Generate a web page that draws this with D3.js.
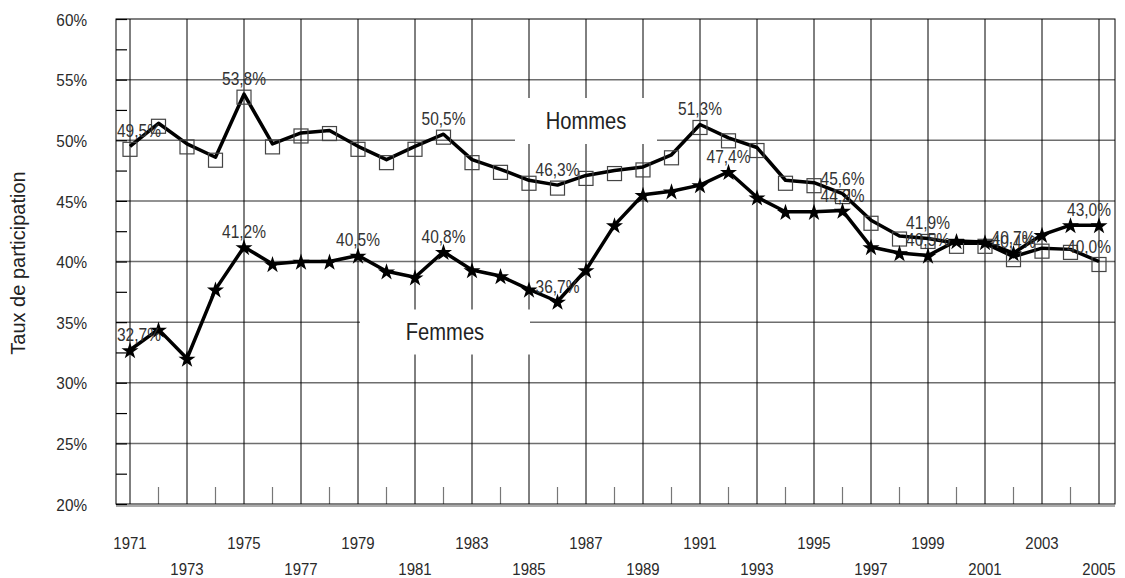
<!DOCTYPE html>
<html>
<head>
<meta charset="utf-8">
<script src="https://cdn.jsdelivr.net/npm/d3@7"></script>
<style>
body{margin:0;background:#fff;}
text{font-family:"Liberation Sans",Arial,sans-serif;}
.lbl{font-size:18px;fill:#333;}
.tick text{font-size:17px;fill:#2a2a2a;}
</style>
</head>
<body>
<div id="chart"></div>
<script>
// data
var years = d3.range(1971, 2006);
var hommes = [49.5,51.4,49.7,48.6,53.8,49.7,50.6,50.8,49.5,48.4,49.5,50.5,48.4,47.6,46.7,46.3,47.1,47.5,47.8,48.8,
              51.3,50.2,49.4,46.7,46.5,45.6,43.4,42.1,41.9,41.5,41.5,40.4,41.1,41.0,40.0];
var femmes = [32.7,34.4,32.0,37.7,41.2,39.8,40.0,40.0,40.5,39.2,38.7,40.8,39.3,38.8,37.7,36.7,39.3,43.0,45.5,45.8,
              46.3,47.4,45.3,44.1,44.1,44.2,41.2,40.7,40.5,41.7,41.6,40.7,42.2,43.0,43.0];
var hommesLabelYears = [1971,1975,1982,1986,1991,1996,1999,2002,2005];
var femmesLabelYears = [1971,1975,1979,1982,1986,1992,1996,1999,2002,2005];
var yTicks = [20,25,30,35,40,45,50,55,60];

var width = 1125, height = 578;
var pLeft = 116, pRight = 1115, pTop = 19, pBottom = 504;

var svg = d3.select("#chart").append("svg")
    .attr("width", width)
    .attr("height", height);

// squeeze text to look like a narrow face
function narrow(sel, f){
  sel.each(function(){
    var w = this.getComputedTextLength();
    d3.select(this).attr("textLength", w * f).attr("lengthAdjust", "spacingAndGlyphs");
  });
}

var x = d3.scaleLinear().domain([1971, 2005]).range([130, 1099]);
var y = d3.scaleLinear().domain([20, 60]).range([pBottom, pTop]);

//horizontal grid
svg.selectAll(".hgrid")
   .data(yTicks.slice(1, -1))
   .enter().append("line")
   .attr("x1", pLeft).attr("x2", pRight)
   .attr("y1", function(d){return y(d);})
   .attr("y2", function(d){return y(d);})
   .attr("stroke", "#6e6e6e")
   .attr("stroke-width", 1.5);

//vertical grid at odd years
var oddYears = years.filter(function(d){return d % 2 == 1;});
svg.selectAll(".vgrid")
   .data(oddYears)
   .enter().append("line")
   .attr("x1", function(d){return x(d);})
   .attr("x2", function(d){return x(d);})
   .attr("y1", pTop).attr("y2", pBottom)
   .attr("stroke", "#000")
   .attr("stroke-width", 1);

//short ticks at even years
svg.selectAll(".etick")
   .data(years.filter(function(d){return d % 2 == 0;}))
   .enter().append("line")
   .attr("x1", function(d){return x(d);})
   .attr("x2", function(d){return x(d);})
   .attr("y1", pBottom - 17).attr("y2", pBottom)
   .attr("stroke", "#777")
   .attr("stroke-width", 1.2);

//frame
svg.append("rect")
   .attr("x", pLeft).attr("y", pTop)
   .attr("width", pRight - pLeft).attr("height", pBottom - pTop)
   .attr("fill", "none").attr("stroke", "#000").attr("stroke-width", 1);
svg.append("line")
   .attr("x1", pLeft).attr("x2", pRight)
   .attr("y1", pBottom + 2).attr("y2", pBottom + 2)
   .attr("stroke", "#555").attr("stroke-width", 1);

//y axis
var yAxis = d3.axisLeft(y)
   .tickValues(d3.range(20, 60.1, 2.5))
   .tickSize(-11)
   .tickPadding(29)
   .tickFormat(function(d){return d % 5 == 0 ? d + "%" : "";});
svg.append("g")
   .attr("transform", "translate(" + pLeft + ",0)")
   .call(yAxis)
   .call(function(g){
     g.select(".domain").remove();
     g.selectAll(".tick line").attr("stroke", "#000").attr("stroke-width", 1.2);
     g.selectAll(".tick text").attr("dy", "0.36em").call(narrow, 0.9);
   });

svg.append("text")
   .attr("transform", "translate(25," + 263 + ") rotate(-90)")
   .attr("text-anchor", "middle")
   .style("font-size", "20px")
   .attr("fill", "#222")
   .text("Taux de participation")
   .call(narrow, 1.0);

//x labels in two rows
svg.selectAll(".xlab")
   .data(oddYears)
   .enter().append("text")
   .attr("x", function(d){return x(d);})
   .attr("y", function(d, i){return i % 2 == 0 ? 549 : 575;})
   .attr("text-anchor", "middle")
   .style("font-size", "17px")
   .attr("fill", "#2a2a2a")
   .text(function(d){return d;})
   .call(narrow, 0.88);

//series name boxes
function nameBox(cx, cy, w, h, txt){
  svg.append("rect")
     .attr("x", cx - w/2).attr("y", cy - h/2)
     .attr("width", w).attr("height", h)
     .attr("fill", "#fff");
  svg.append("text")
     .attr("x", cx).attr("y", cy + 8)
     .attr("text-anchor", "middle")
     .style("font-size", "24px")
     .attr("fill", "#222")
     .text(txt)
     .call(narrow, 0.84);
}
nameBox(586, 121, 142, 46, "Hommes");
nameBox(445, 332, 170, 45, "Femmes");

var line = d3.line()
   .x(function(d, i){return x(years[i]);})
   .y(function(d){return y(d);});

//hommes
svg.append("path")
   .datum(hommes)
   .attr("d", line)
   .attr("fill", "none")
   .attr("stroke", "#000")
   .attr("stroke-width", 3.5)
   .attr("stroke-linejoin", "round");
svg.selectAll(".sq")
   .data(hommes)
   .enter().append("rect")
   .attr("x", function(d, i){return x(years[i]) - 7;})
   .attr("y", function(d){return y(d) - 4;})
   .attr("width", 14).attr("height", 14)
   .attr("fill", "none")
   .attr("stroke", "#444")
   .attr("stroke-width", 1.2);

//femmes
svg.append("path")
   .datum(femmes)
   .attr("d", line)
   .attr("fill", "none")
   .attr("stroke", "#000")
   .attr("stroke-width", 3.5)
   .attr("stroke-linejoin", "round");
var star = d3.symbol().type(d3.symbolStar).size(90);
svg.selectAll(".st")
   .data(femmes)
   .enter().append("path")
   .attr("d", star)
   .attr("transform", function(d, i){return "translate(" + x(years[i]) + "," + (y(d) + 1) + ")";})
   .attr("fill", "#000");

//data labels, kept inside the plot area
function fmt(v){return v.toFixed(1).replace(".", ",") + "%";}
function addLabels(vals, labYears){
  labYears.forEach(function(yr){
    var v = vals[years.indexOf(yr)];
    var t = svg.append("text")
       .attr("class", "lbl")
       .attr("y", y(v) - 9)
       .text(fmt(v));
    var w = t.node().getComputedTextLength() * 0.86;
    t.attr("textLength", w).attr("lengthAdjust", "spacingAndGlyphs");
    var lx = x(yr) - w/2;
    if(lx < pLeft + 1) lx = pLeft + 1;
    if(lx + w > pRight - 4) lx = pRight - 4 - w;
    t.attr("x", lx);
  });
}
addLabels(hommes, hommesLabelYears);
addLabels(femmes, femmesLabelYears);
</script>
</body>
</html>
